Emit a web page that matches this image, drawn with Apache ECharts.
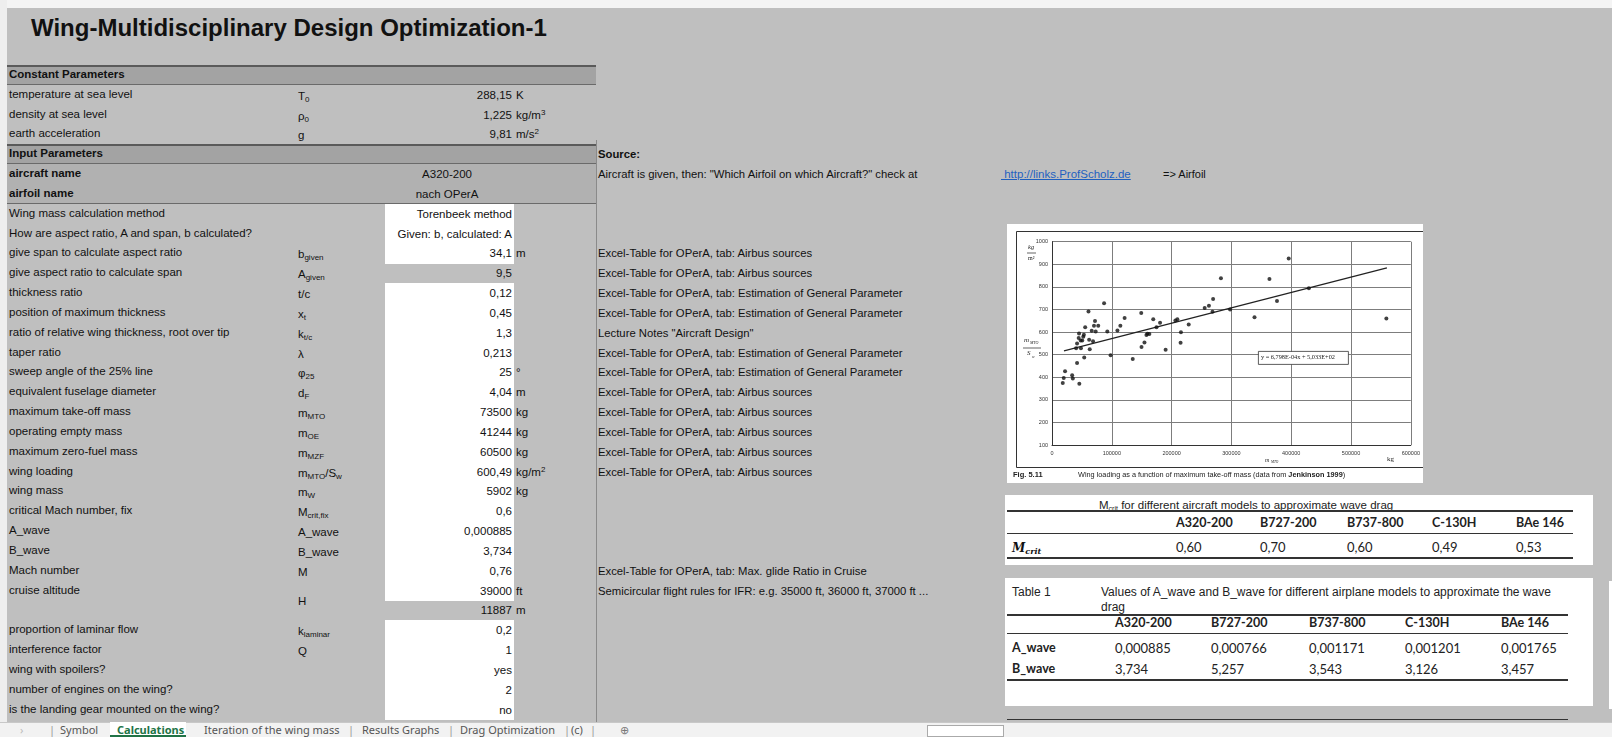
<!DOCTYPE html>
<html>
<head>
<meta charset="utf-8">
<script src="https://cdn.jsdelivr.net/npm/echarts/dist/echarts.min.js"></script>
<style>
body{margin:0;width:1612px;height:737px;overflow:hidden;background:#bfbfbf;position:relative;font-family:"Liberation Sans",Arial,sans-serif;}
.c{position:absolute;white-space:nowrap;font-size:11.5px;color:#111;line-height:20px;}
.c sub{font-size:8px;vertical-align:-2px;line-height:0;}
.c sup{font-size:8px;vertical-align:4px;line-height:0;}
.box{position:absolute;}
.t{position:absolute;white-space:nowrap;font-family:Lato,"Open Sans",sans-serif;font-size:12.5px;color:#222;}
.tb{font-weight:bold;}
.hl{position:absolute;background:#333;}
.tab{position:absolute;top:722px;height:15px;line-height:15px;font-family:"Noto Sans","Open Sans",sans-serif;font-size:11px;color:#555;white-space:nowrap;}
</style>
</head>
<body>
<div id="sheet"></div>
<div id="main" style="position:absolute;left:1007px;top:224px;width:416px;height:259px;background:#fff;"></div>
<script>
// ---- spreadsheet columns ----
var rowLabels = ['Constant Parameters','temperature at sea level','density at sea level','earth acceleration','Input Parameters','aircraft name','airfoil name','Wing mass calculation method','How are aspect ratio, A and span, b calculated?','give span to calculate aspect ratio','give aspect ratio to calculate span','thickness ratio','position of maximum thickness','ratio of relative wing thickness, root over tip','taper ratio','sweep angle of the 25% line','equivalent fuselage diameter','maximum take-off mass','operating empty mass','maximum zero-fuel mass','wing loading','wing mass','critical Mach number, fix','A_wave','B_wave','Mach number','cruise altitude','','proportion of laminar flow','interference factor','wing with spoilers?','number of engines on the wing?','is the landing gear mounted on the wing?'];
var rowSymbols = ['','T<sub>0</sub>','ρ<sub>0</sub>','g','','','','','','b<sub>given</sub>','A<sub>given</sub>','t/c','x<sub>t</sub>','k<sub>t/c</sub>','λ','φ<sub>25</sub>','d<sub>F</sub>','m<sub>MTO</sub>','m<sub>OE</sub>','m<sub>MZF</sub>','m<sub>MTO</sub>/S<sub>w</sub>','m<sub>W</sub>','M<sub>crit,fix</sub>','A_wave','B_wave','M','','','k<sub>laminar</sub>','Q','','',''];
var rowValues = ['','288,15','1,225','9,81','','A320-200','nach OPerA','Torenbeek method','Given: b, calculated: A','34,1','9,5','0,12','0,45','1,3','0,213','25','4,04','73500','41244','60500','600,49','5902','0,6','0,000885','3,734','0,76','39000','11887','0,2','1','yes','2','no'];
var rowUnits = ['','K','kg/m<sup>3</sup>','m/s<sup>2</sup>','','','','','','m','','','','','','°','m','kg','kg','kg','kg/m<sup>2</sup>','kg','','','','','ft','m','','','','',''];
var airbus = 'Excel-Table for OPerA, tab: Airbus sources';
var estim = 'Excel-Table for OPerA, tab: Estimation of General Parameter';
var sourceRows = [4,5,9,10,11,12,13,14,15,16,17,18,19,20,25,26];
var sourceTexts = ['<b>Source:</b>','Aircraft is given, then: "Which Airfoil on which Aircraft?" check at',airbus,airbus,estim,estim,'Lecture Notes "Aircraft Design"',estim,estim,airbus,airbus,airbus,airbus,airbus,'Excel-Table for OPerA, tab: Max. glide Ratio in Cruise','Semicircular flight rules for IFR: e.g. 35000 ft, 36000 ft, 37000 ft ...'];
var whiteRows = [7,8,9,11,12,13,14,15,16,17,18,19,20,21,22,23,24,25,26,28,29,30,31,32];

// ---- tables on the right ----
var aircraftModels = ['A320-200','B727-200','B737-800','C-130H','BAe 146'];
var mcritValues = ['0,60','0,70','0,60','0,49','0,53'];
var aWaveValues = ['0,000885','0,000766','0,001171','0,001201','0,001765'];
var bWaveValues = ['3,734','5,257','3,543','3,126','3,457'];

// ---- scatter: wing loading vs. maximum take-off mass ----
var mtoMass = [18000,19600,21800,33700,34800,45700,41900,40300,41900,44600,45200,47900,48400,50600,52300,53300,53900,55500,62100,63100,61000,66400,68600,70200,71900,73000,77300,87100,92500,98000,109400,114300,121400,135000,149200,149700,154600,157900,159500,162800,169300,174700,180700,190000,206300,209600,215600,215000,228600,255300,262400,268400,269400,282500,297800,338600,363600,376200,395800,429500,559100];
var wingLoading = [375,397,426,409,394,371,463,528,549,574,594,563,528,563,579,588,487,621,566,524,691,606,559,628,649,603,628,728,603,497,607,628,662,481,684,534,554,587,593,591,657,621,641,522,651,657,599,553,634,706,716,690,746,838,700,666,835,738,926,794,660];
var trendX = [20000, 560000];
var trendY = [517, 884];

var sheet = document.getElementById('sheet');
function put(html, css, cls){
    var d = document.createElement('div');
    d.className = cls || 'c';
    d.style.cssText = css;
    d.innerHTML = html;
    sheet.appendChild(d);
    return d;
}
var ROW0 = 65, RH = 19.83;
function rowTop(i){ return ROW0 + i*RH; }

// light strips at top/left edge
put('', 'left:0;top:0;width:1612px;height:8px;background:#f4f4f4;', 'box');
put('', 'left:0;top:0;width:7px;height:722px;background:#eeeeee;', 'box');
// title
put('Wing-Multidisciplinary Design Optimization-1', 'left:31px;top:13px;font-size:24px;font-weight:bold;line-height:30px;color:#111;');

// row backgrounds
for (var i=0;i<rowLabels.length;i++){
    var ry = rowTop(i);
    if (i==0 || i==4){
        put('', 'left:7px;top:'+ry+'px;width:589px;height:'+RH+'px;background:#a3a3a3;border-top:2px solid #5a5a5a;border-bottom:1px solid #6a6a6a;box-sizing:border-box;', 'box');
    } else if (i==5 || i==6){
        put('', 'left:7px;top:'+ry+'px;width:589px;height:'+RH+'px;background:#b1b1b1;'+(i==6?'border-bottom:1px solid #6a6a6a;box-sizing:border-box;':''), 'box');
    }
}
whiteRows.forEach(function(r){
    put('', 'left:385px;top:'+rowTop(r)+'px;width:129px;height:'+(RH+0.5)+'px;background:#fff;', 'box');
});
// separator line
put('', 'left:596px;top:140px;width:1px;height:582px;background:#8a8a8a;', 'box');

for (var i=0;i<rowLabels.length;i++){
    var ry = rowTop(i);
    var bold = (i==0||i==4||i==5||i==6) ? 'font-weight:bold;' : '';
    if (rowLabels[i]) put(rowLabels[i], 'left:9px;top:'+(ry-1)+'px;'+bold);
    if (rowSymbols[i]) put(rowSymbols[i], 'left:298px;top:'+(ry+1)+'px;');
    if (rowValues[i]){
        if (i==5 || i==6) put(rowValues[i], 'left:397px;width:100px;text-align:center;top:'+ry+'px;');
        else put(rowValues[i], 'right:'+(1612-512)+'px;top:'+ry+'px;');
    }
    if (rowUnits[i]) put(rowUnits[i], 'left:516px;top:'+ry+'px;');
}
// merged H symbol
put('H', 'left:298px;top:'+(rowTop(26)+10)+'px;');

// sources column
for (var k=0;k<sourceRows.length;k++){
    put(sourceTexts[k], 'left:598px;top:'+rowTop(sourceRows[k])+'px;font-size:11.3px;');
}
put('<span style="color:#1f5fbf;text-decoration:underline;">&nbsp;http://links.ProfScholz.de</span>', 'left:1001px;top:'+rowTop(5)+'px;font-size:11.5px;');
put('=&gt; Airfoil', 'left:1163px;top:'+rowTop(5)+'px;font-size:11px;');

// ---- Mcrit table ----
put('', 'left:1005px;top:495px;width:588px;height:70px;background:#fff;', 'box');
put('M<sub style="font-size:7px">crit</sub> for different aircraft models to approximate wave drag', 'left:1099px;top:495px;font-size:11.5px;font-family:"Liberation Sans Narrow","Liberation Sans",Arial;color:#222;');
put('', 'left:1007px;top:510px;width:566px;height:2px;', 'hl');
put('', 'left:1007px;top:533px;width:566px;height:1px;', 'hl');
put('', 'left:1007px;top:557px;width:566px;height:2px;', 'hl');
var mcritX = [1176,1260,1347,1432,1516];
for (var j=0;j<5;j++){
    put(aircraftModels[j], 'left:'+mcritX[j]+'px;top:515px;', 't tb');
    put(mcritValues[j], 'left:'+mcritX[j]+'px;top:539px;font-size:13px;', 't');
}
put('M<sub style="font-size:8px">crit</sub>', 'left:1012px;top:538px;font-family:"DejaVu Serif",serif;font-style:italic;font-weight:bold;font-size:12px;color:#111;');

// ---- Table 1 ----
put('', 'left:1005px;top:578px;width:588px;height:128px;background:#fff;', 'box');
put('Table 1', 'left:1012px;top:585px;font-size:12px;font-family:"Liberation Sans",Arial;', 't');
put('Values of A_wave and B_wave for different airplane models to approximate the wave<br>drag', 'left:1101px;top:585px;font-size:12px;line-height:15px;font-family:"Liberation Sans",Arial;', 't');
put('', 'left:1007px;top:614px;width:561px;height:2px;', 'hl');
put('', 'left:1007px;top:633px;width:561px;height:1px;', 'hl');
put('', 'left:1007px;top:679px;width:561px;height:2px;', 'hl');
var t1X = [1115,1211,1309,1405,1501];
for (var j=0;j<5;j++){
    put(aircraftModels[j], 'left:'+t1X[j]+'px;top:615px;', 't tb');
    put(aWaveValues[j], 'left:'+t1X[j]+'px;top:640px;font-size:13px;', 't');
    put(bWaveValues[j], 'left:'+t1X[j]+'px;top:661px;font-size:13px;', 't');
}
put('A_wave', 'left:1012px;top:640px;', 't tb');
put('B_wave', 'left:1012px;top:661px;', 't tb');
put('', 'left:1609px;top:581px;width:3px;height:128px;background:#fff;', 'box');
put('', 'left:1007px;top:719px;width:561px;height:1px;', 'hl');

// ---- tab bar ----
put('', 'left:0;top:722px;width:1612px;height:15px;background:#f2f2f2;border-top:1px solid #c8c8c8;box-sizing:border-box;', 'box');
put('›', 'left:20px;color:#bbb;', 'tab');
put('|', 'left:49px;color:#999;', 'tab');
put('Symbol', 'left:60px;', 'tab');
put('', 'left:110px;top:722px;width:76px;height:15px;background:#fff;border-bottom:2px solid #217346;box-sizing:border-box;', 'box');
put('Calculations', 'left:117px;font-weight:bold;color:#217346;', 'tab');
put('Iteration of the wing mass', 'left:204px;', 'tab');
put('|', 'left:348px;color:#999;', 'tab');
put('Results Graphs', 'left:362px;', 'tab');
put('|', 'left:448px;color:#999;', 'tab');
put('Drag Optimization', 'left:460px;', 'tab');
put('|', 'left:564px;color:#999;', 'tab');
put('(c)', 'left:571px;', 'tab');
put('|', 'left:590px;color:#999;', 'tab');
put('⊕', 'left:620px;color:#777;', 'tab');
put('', 'left:927px;top:725px;width:75px;height:10px;background:#fff;border:1px solid #aaa;', 'box');

// ---- ECharts: wing loading figure ----
var myChart = echarts.init(document.getElementById('main'));
var pts = [];
for (var n=0;n<mtoMass.length;n++) pts.push([mtoMass[n], wingLoading[n]]);
var trend = [[trendX[0], trendY[0]], [trendX[1], trendY[1]]];
var serif = '"Liberation Serif", "DejaVu Serif", serif';
var plain = function(v){ return String(v); };

myChart.setOption({
    animation: false,
    grid: {left:45, top:17.7, right:1, bottom:38},
    xAxis: {
        type:'value', min:0, max:600000, interval:100000,
        axisLine:{show:true, lineStyle:{color:'#333', width:1}},
        axisTick:{show:false},
        axisLabel:{fontSize:5.5, color:'#333', margin:5, formatter:plain},
        splitLine:{show:true, lineStyle:{color:'#7d7d7d', width:1}}
    },
    yAxis: {
        type:'value', min:100, max:1000, interval:100,
        axisLine:{show:true, lineStyle:{color:'#333', width:1}},
        axisTick:{show:false},
        axisLabel:{fontSize:5.5, color:'#333', margin:4, formatter:plain},
        splitLine:{show:true, lineStyle:{color:'#7d7d7d', width:1}}
    },
    series: [
        {type:'line', data:trend, symbol:'none', lineStyle:{color:'#222', width:1.2}, z:3},
        {type:'scatter', data:pts, symbol:'circle', symbolSize:4, itemStyle:{color:'#111'}, z:4}
    ],
    graphic: [
        {type:'rect', left:7, top:5, shape:{width:420, height:236}, style:{fill:'none', stroke:'#333', lineWidth:1}, z:10},
        {type:'text', left:21, top:20, style:{text:'kg', font:'italic 6.5px '+serif, fill:'#222'}},
        {type:'line', shape:{x1:20, y1:29, x2:29, y2:29}, style:{stroke:'#222', lineWidth:0.7}},
        {type:'text', left:21, top:31, style:{text:'m²', font:'6px '+serif, fill:'#222'}},
        {type:'text', left:17, top:113, style:{text:'m', font:'italic 7px '+serif, fill:'#222'}},
        {type:'text', left:23, top:117, style:{text:'MTO', font:'italic 4px '+serif, fill:'#222'}},
        {type:'line', shape:{x1:16, y1:124, x2:34, y2:124}, style:{stroke:'#222', lineWidth:0.7}},
        {type:'text', left:20, top:126, style:{text:'S', font:'italic 7px '+serif, fill:'#222'}},
        {type:'text', left:25, top:131, style:{text:'w', font:'italic 4px '+serif, fill:'#222'}},
        {type:'text', left:258, top:233, style:{text:'m', font:'italic 6px '+serif, fill:'#222'}},
        {type:'text', left:264, top:236, style:{text:'MTO', font:'italic 3.5px '+serif, fill:'#222'}},
        {type:'text', left:380, top:232, style:{text:'kg', font:'7px '+serif, fill:'#222'}},
        {type:'rect', left:251, top:127, shape:{width:90, height:13}, style:{fill:'#fff', stroke:'#333', lineWidth:0.8}, z:5},
        {type:'text', left:254, top:130, style:{text:'y = 6,798E-04x + 5,033E+02', font:'6.3px '+serif, fill:'#222'}, z:6},
        {type:'text', left:6, top:247, style:{text:'Fig. 5.11', font:'bold 7.5px "Liberation Sans", Arial', fill:'#222'}},
        {type:'text', left:71, top:247, style:{
            text:'Wing loading as a function of maximum take-off mass (data from {b|Jenkinson 1999})',
            font:'7.3px "Liberation Sans", Arial', fill:'#222',
            rich:{b:{fontWeight:'bold', fontSize:7.3, fill:'#222'}}
        }}
    ]
});
</script>
</body>
</html>
